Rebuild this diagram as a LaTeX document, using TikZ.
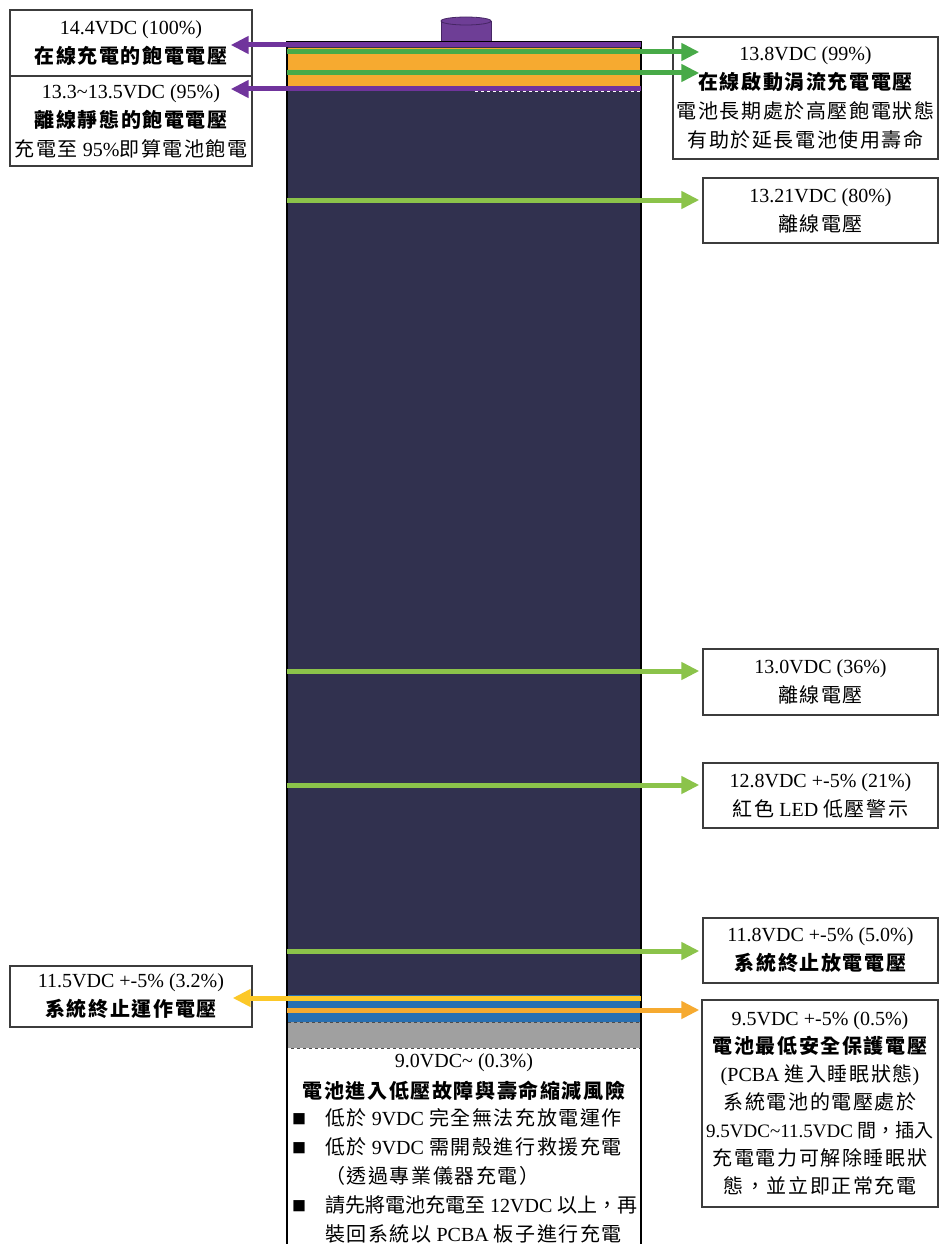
\documentclass[tikz,border=0pt]{standalone}
\usepackage{fontspec}
\setmainfont{Liberation Serif}
\newfontfamily\cjk{Noto Sans CJK TC}[LetterSpace=8]
\newfontfamily\cjkn{Noto Sans CJK TC}[LetterSpace=0]
\usetikzlibrary{arrows.meta}
\definecolor{navy}{RGB}{49,49,79}
\definecolor{bpurple}{RGB}{112,52,156}
\definecolor{tpurple}{RGB}{110,62,150}
\definecolor{dpurple}{RGB}{70,38,100}
\definecolor{tgreen}{RGB}{72,170,72}
\definecolor{lgreen}{RGB}{139,195,74}
\definecolor{borange}{RGB}{246,170,48}
\definecolor{byellow}{RGB}{252,200,40}
\definecolor{bblue}{RGB}{40,112,178}
\definecolor{bgray}{RGB}{160,160,160}
\definecolor{boxline}{RGB}{60,60,60}
\newcommand\Zh[1]{{\cjk #1}}
\newcommand\Zhb[1]{{\cjk\bfseries #1}}
\newcommand\Zn[1]{{\cjkn #1}}
\newcommand\Bul{\makebox[33pt][l]{\raisebox{1pt}{\cjk\fontsize{14}{14}\selectfont ■}}}
\begin{document}
\begin{tikzpicture}[x=1pt,y=-1pt,
  lbl/.style={draw=boxline, line width=1.4pt, fill=white, inner sep=0pt, align=center,
    font=\fontsize{20}{29}\selectfont},
  arr/.style={line width=5pt, -{Triangle[length=18pt,width=17pt]}},
  txt/.style={inner sep=0pt, align=center, font=\fontsize{20}{29}\selectfont}]
\useasboundingbox (0,0) rectangle (939,1244);
\clip (0,0) rectangle (939,1244);
\fill[white] (0,0) rectangle (939,1244);
% terminal
\filldraw[fill=tpurple, draw=dpurple, line width=0.8pt] (441,21) -- (441,42) -- (491,42) -- (491,21);
\filldraw[fill=tpurple, draw=dpurple, line width=0.8pt] (466,21) ellipse [x radius=25, y radius=4];
% battery body
\fill[navy] (287,42) rectangle (641,1022);
\fill[borange] (287,48) rectangle (641,88);
\fill[bblue] (287,995) rectangle (641,1022);
\filldraw[fill=bgray, draw=black!70, dashed, line width=1pt] (287,1022) rectangle (641,1048);
\draw[white, dashed, line width=1pt] (475,92) -- (641,92);
\draw[black, line width=1.5pt] (287,1260) -- (287,42) -- (641,42) -- (641,1260);
% level coordinates
\coordinate (p100) at (641,45);
\coordinate (p95) at (641,89);
\coordinate (g99a) at (287,52);
\coordinate (g99b) at (287,73);
\coordinate (g80) at (287,200);
\coordinate (g36) at (287,671);
\coordinate (g21) at (287,785);
\coordinate (g5) at (287,951);
\coordinate (y32) at (641,998);
\coordinate (o05) at (287,1010);
% boxes
\node[lbl, minimum width=242, minimum height=66] (L1) at (131,43)
  {14.4VDC (100\%)\\ \Zhb{在線充電的飽電電壓}};
\node[lbl, minimum width=242, minimum height=90] (L2) at (131,121)
  {13.3\textasciitilde13.5VDC (95\%)\\ \Zhb{離線靜態的飽電電壓}\\ \Zh{充電至} 95\%\Zh{即算電池飽電}};
\node[lbl, minimum width=265, minimum height=122] (R1) at (805.5,98)
  {13.8VDC (99\%)\\ \Zhb{在線啟動涓流充電電壓}\\ \Zh{電池長期處於高壓飽電狀態}\\ \Zh{有助於延長電池使用壽命}};
\node[lbl, minimum width=235, minimum height=65] (R2) at (820.5,210.5)
  {13.21VDC (80\%)\\ \Zh{離線電壓}};
\node[lbl, minimum width=235, minimum height=66] (R3) at (820.5,682)
  {13.0VDC (36\%)\\ \Zh{離線電壓}};
\node[lbl, minimum width=235, minimum height=65] (R4) at (820.5,795.5)
  {12.8VDC +-5\% (21\%)\\ \Zh{紅色} LED \Zh{低壓警示}};
\node[lbl, minimum width=235, minimum height=65] (R5) at (820.5,950.5)
  {11.8VDC +-5\% (5.0\%)\\ \Zhb{系統終止放電電壓}};
\node[lbl, minimum width=236, minimum height=207, font=\fontsize{20}{28}\selectfont] (R6) at (820,1103.5)
  {9.5VDC +-5\% (0.5\%)\\ \Zhb{電池最低安全保護電壓}\\ (PCBA \Zh{進入睡眠狀態})\\ \Zh{系統電池的電壓處於}\\ {\fontsize{19}{28}\selectfont 9.5VDC\textasciitilde11.5VDC \Zn{間，插入}}\\ \Zh{充電電力可解除睡眠狀}\\ \Zh{態，並立即正常充電}};
\node[lbl, minimum width=242, minimum height=61] (L3) at (131,996.5)
  {11.5VDC +-5\% (3.2\%)\\ \Zhb{系統終止運作電壓}};
% arrows
\draw[arr, bpurple, shorten >=-22pt] (p100) -- (p100 -| L1.east);
\draw[arr, bpurple, shorten >=-22pt] (p95) -- (p95 -| L2.east);
\draw[arr, tgreen, shorten >=-27pt] (g99a) -- (g99a -| R1.west);
\draw[arr, tgreen, shorten >=-27pt] (g99b) -- (g99b -| R1.west);
\draw[arr, lgreen, shorten >=3pt] (g80) -- (g80 -| R2.west);
\draw[arr, lgreen, shorten >=3pt] (g36) -- (g36 -| R3.west);
\draw[arr, lgreen, shorten >=3pt] (g21) -- (g21 -| R4.west);
\draw[arr, lgreen, shorten >=3pt] (g5) -- (g5 -| R5.west);
\draw[arr, byellow, shorten >=-20pt] (y32) -- (y32 -| L3.east);
\draw[arr, borange, shorten >=2pt] (o05) -- (o05 -| R6.west);
% bottom texts
\node[txt] (t09) at (464,1063) {9.0VDC\textasciitilde{} (0.3\%)};
\node[txt] (t09b) at (464,1091) {\Zhb{電池進入低壓故障與壽命縮減風險}};
\node[txt, anchor=north west, align=left] (list) at (292,1108)
  {\Bul\Zh{低於} 9VDC \Zh{完全無法充放電運作}\\
   \Bul\Zh{低於} 9VDC \Zh{需開殼進行救援充電}\\
   \hspace*{33pt}\Zh{（透過專業儀器充電）}\\
   \Bul\Zn{請先將電池充電至} 12VDC \Zn{以上，再}\\
   \hspace*{33pt}\Zh{裝回系統以} PCBA \Zh{板子進行充電}};
\end{tikzpicture}
\end{document}
